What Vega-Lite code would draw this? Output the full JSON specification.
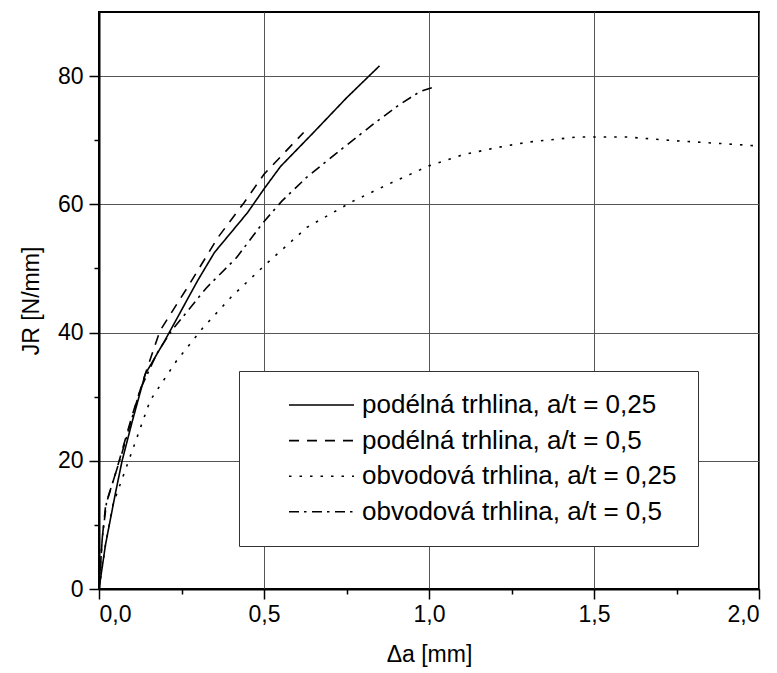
{
  "$schema": "https://vega.github.io/schema/vega-lite/v6.json",
  "autosize": "none",
  "width": 660,
  "height": 577,
  "padding": {"left": 99, "top": 12, "right": 18, "bottom": 84},
  "background": "white",
  "config": {
    "view": {"stroke": "black", "strokeWidth": 2},
    "font": "Liberation Sans"
  },
  "data": {"values": [
    {"series": "podélná trhlina, a/t = 0,25", "x": 0, "y": 0},
    {"series": "podélná trhlina, a/t = 0,25", "x": 0.02, "y": 7},
    {"series": "podélná trhlina, a/t = 0,25", "x": 0.05, "y": 15},
    {"series": "podélná trhlina, a/t = 0,25", "x": 0.07, "y": 20},
    {"series": "podélná trhlina, a/t = 0,25", "x": 0.1, "y": 26},
    {"series": "podélná trhlina, a/t = 0,25", "x": 0.14, "y": 33.5},
    {"series": "podélná trhlina, a/t = 0,25", "x": 0.2, "y": 38.8},
    {"series": "podélná trhlina, a/t = 0,25", "x": 0.25, "y": 43.5},
    {"series": "podélná trhlina, a/t = 0,25", "x": 0.3, "y": 48.2},
    {"series": "podélná trhlina, a/t = 0,25", "x": 0.35, "y": 52.5},
    {"series": "podélná trhlina, a/t = 0,25", "x": 0.45, "y": 58.7},
    {"series": "podélná trhlina, a/t = 0,25", "x": 0.5, "y": 62.4},
    {"series": "podélná trhlina, a/t = 0,25", "x": 0.55, "y": 65.9},
    {"series": "podélná trhlina, a/t = 0,25", "x": 0.65, "y": 71.2},
    {"series": "podélná trhlina, a/t = 0,25", "x": 0.75, "y": 76.6},
    {"series": "podélná trhlina, a/t = 0,25", "x": 0.85, "y": 81.6},
    {"series": "podélná trhlina, a/t = 0,5", "x": 0, "y": 0},
    {"series": "podélná trhlina, a/t = 0,5", "x": 0.01, "y": 8},
    {"series": "podélná trhlina, a/t = 0,5", "x": 0.02, "y": 13},
    {"series": "podélná trhlina, a/t = 0,5", "x": 0.05, "y": 18},
    {"series": "podélná trhlina, a/t = 0,5", "x": 0.075, "y": 22.5},
    {"series": "podélná trhlina, a/t = 0,5", "x": 0.1, "y": 27},
    {"series": "podélná trhlina, a/t = 0,5", "x": 0.14, "y": 33.5},
    {"series": "podélná trhlina, a/t = 0,5", "x": 0.185, "y": 40.3},
    {"series": "podélná trhlina, a/t = 0,5", "x": 0.27, "y": 47.2},
    {"series": "podélná trhlina, a/t = 0,5", "x": 0.36, "y": 54.8},
    {"series": "podélná trhlina, a/t = 0,5", "x": 0.44, "y": 60.3},
    {"series": "podélná trhlina, a/t = 0,5", "x": 0.5, "y": 64.7},
    {"series": "podélná trhlina, a/t = 0,5", "x": 0.62, "y": 71.2},
    {"series": "obvodová trhlina, a/t = 0,25", "x": 0, "y": 0},
    {"series": "obvodová trhlina, a/t = 0,25", "x": 0.02, "y": 7},
    {"series": "obvodová trhlina, a/t = 0,25", "x": 0.043, "y": 13.3},
    {"series": "obvodová trhlina, a/t = 0,25", "x": 0.094, "y": 20.6},
    {"series": "obvodová trhlina, a/t = 0,25", "x": 0.155, "y": 29.4},
    {"series": "obvodová trhlina, a/t = 0,25", "x": 0.235, "y": 35.6},
    {"series": "obvodová trhlina, a/t = 0,25", "x": 0.316, "y": 40.8},
    {"series": "obvodová trhlina, a/t = 0,25", "x": 0.4, "y": 45.5},
    {"series": "obvodová trhlina, a/t = 0,25", "x": 0.5, "y": 50.4},
    {"series": "obvodová trhlina, a/t = 0,25", "x": 0.63, "y": 56.4},
    {"series": "obvodová trhlina, a/t = 0,25", "x": 0.77, "y": 60.5},
    {"series": "obvodová trhlina, a/t = 0,25", "x": 0.9, "y": 63.7},
    {"series": "obvodová trhlina, a/t = 0,25", "x": 1.0, "y": 66},
    {"series": "obvodová trhlina, a/t = 0,25", "x": 1.1, "y": 67.7},
    {"series": "obvodová trhlina, a/t = 0,25", "x": 1.2, "y": 68.8},
    {"series": "obvodová trhlina, a/t = 0,25", "x": 1.3, "y": 69.7},
    {"series": "obvodová trhlina, a/t = 0,25", "x": 1.45, "y": 70.5},
    {"series": "obvodová trhlina, a/t = 0,25", "x": 1.6, "y": 70.5},
    {"series": "obvodová trhlina, a/t = 0,25", "x": 1.75, "y": 69.9},
    {"series": "obvodová trhlina, a/t = 0,25", "x": 1.88, "y": 69.5},
    {"series": "obvodová trhlina, a/t = 0,25", "x": 2.0, "y": 69.1},
    {"series": "obvodová trhlina, a/t = 0,5", "x": 0, "y": 0},
    {"series": "obvodová trhlina, a/t = 0,5", "x": 0.01, "y": 8},
    {"series": "obvodová trhlina, a/t = 0,5", "x": 0.023, "y": 13.6},
    {"series": "obvodová trhlina, a/t = 0,5", "x": 0.069, "y": 21.1},
    {"series": "obvodová trhlina, a/t = 0,5", "x": 0.124, "y": 31},
    {"series": "obvodová trhlina, a/t = 0,5", "x": 0.175, "y": 36.7},
    {"series": "obvodová trhlina, a/t = 0,5", "x": 0.22, "y": 40.3},
    {"series": "obvodová trhlina, a/t = 0,5", "x": 0.326, "y": 47},
    {"series": "obvodová trhlina, a/t = 0,5", "x": 0.417, "y": 51.7},
    {"series": "obvodová trhlina, a/t = 0,5", "x": 0.498, "y": 57.2},
    {"series": "obvodová trhlina, a/t = 0,5", "x": 0.554, "y": 60.5},
    {"series": "obvodová trhlina, a/t = 0,5", "x": 0.629, "y": 64.2},
    {"series": "obvodová trhlina, a/t = 0,5", "x": 0.73, "y": 68.4},
    {"series": "obvodová trhlina, a/t = 0,5", "x": 0.831, "y": 72.5},
    {"series": "obvodová trhlina, a/t = 0,5", "x": 0.912, "y": 75.6},
    {"series": "obvodová trhlina, a/t = 0,5", "x": 0.973, "y": 77.6},
    {"series": "obvodová trhlina, a/t = 0,5", "x": 1.015, "y": 78.3}
  ]},
  "mark": {"type": "line", "color": "black", "strokeWidth": 1.6},
  "encoding": {
    "x": {
      "field": "x", "type": "quantitative",
      "scale": {"domain": [0, 2], "nice": false},
      "axis": {
        "values": [0, 0.25, 0.5, 0.75, 1, 1.25, 1.5, 1.75, 2],
        "labelExpr": "round(datum.value*2) == datum.value*2 ? replace(format(datum.value, '.1f'), '.', ',') : ''",
        "title": "Δa  [mm]",
        "titleFont": "Liberation Sans", "titleFontSize": 23, "titleFontWeight": "normal", "titleColor": "black", "titlePadding": 17,
        "labelFont": "Liberation Sans", "labelFontSize": 23, "labelColor": "black", "labelPadding": 4,
        "domainColor": "black", "domainWidth": 2,
        "tickColor": "black", "tickWidth": 1.5, "tickSize": 10,
        "tickDash": {"condition": {"test": "round(datum.value*2) != datum.value*2", "value": [5, 30]}, "value": [10, 0]},
        "grid": true, "gridColor": "#555", "gridWidth": 1,
        "gridOpacity": {"condition": {"test": "round(datum.value*2) != datum.value*2", "value": 0}, "value": 1}
      }
    },
    "y": {
      "field": "y", "type": "quantitative",
      "scale": {"domain": [0, 90], "nice": false},
      "axis": {
        "values": [0, 10, 20, 30, 40, 50, 60, 70, 80],
        "labelExpr": "datum.value % 20 == 0 ? format(datum.value, 'd') : ''",
        "title": "JR [N/mm]",
        "titleFont": "Liberation Sans", "titleFontSize": 23, "titleFontWeight": "normal", "titleColor": "black", "titlePadding": 14,
        "labelFont": "Liberation Sans", "labelFontSize": 23, "labelColor": "black", "labelPadding": 6,
        "domainColor": "black", "domainWidth": 2,
        "tickColor": "black", "tickWidth": 1.5, "tickSize": 10,
        "tickDash": {"condition": {"test": "datum.value % 20 != 0", "value": [5, 30]}, "value": [10, 0]},
        "grid": true, "gridColor": "#555", "gridWidth": 1,
        "gridOpacity": {"condition": {"test": "datum.value % 20 != 0", "value": 0}, "value": 1}
      }
    },
    "strokeDash": {
      "field": "series", "type": "nominal",
      "scale": {
        "domain": ["podélná trhlina, a/t = 0,25", "podélná trhlina, a/t = 0,5", "obvodová trhlina, a/t = 0,25", "obvodová trhlina, a/t = 0,5"],
        "range": [[1, 0], [10, 8], [2.5, 8], [10, 5, 2.5, 5.5]]
      },
      "legend": {
        "orient": "none", "legendX": 140, "legendY": 359,
        "title": null,
        "fillColor": "white", "strokeColor": "#333",
        "padding": 21,
        "symbolType": "stroke", "symbolSize": 4225, "symbolStrokeWidth": 1.6, "symbolStrokeColor": "black",
        "symbolOffset": 28,
        "clipHeight": 26, "rowPadding": 9.6,
        "labelFont": "Liberation Sans", "labelFontSize": 26, "labelColor": "black", "labelOffset": 7, "labelLimit": 500
      }
    }
  }
}
